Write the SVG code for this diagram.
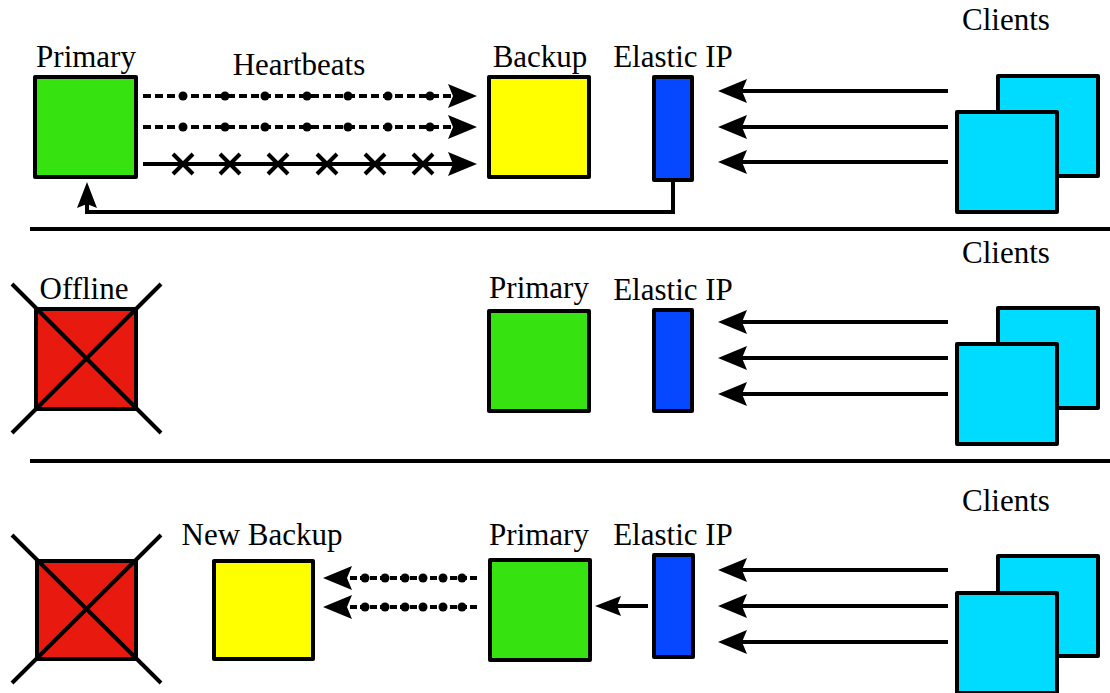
<svg xmlns="http://www.w3.org/2000/svg" width="1110" height="693" viewBox="0 0 1110 693">
  <defs>
    <style>
      .box { stroke: #000; stroke-width: 4; stroke-linejoin: round; }
      .green { fill: #36e20f; }
      .yellow { fill: #ffff00; }
      .blue { fill: #0548ff; }
      .red { fill: #e8190f; }
      .cyan { fill: #00dcff; }
      .lbl { font-family: "Liberation Serif", "Times New Roman", serif; font-size: 31px; fill: #000; text-anchor: middle; }
      .wire { fill: none; stroke: #000; stroke-width: 4; }
      .dash { stroke-dasharray: 8 4; }
      .dash-s { stroke-dasharray: 7 3; }
      .x { stroke: #000; stroke-width: 4; }
      .dot { fill: #000; }
      .rule { stroke: #000; stroke-width: 4; }
    </style>
    <!-- arrowhead whose tip lies 10px beyond the end of the path -->
    <marker id="arr" markerUnits="userSpaceOnUse" viewBox="-20 -12 32 24" markerWidth="32" markerHeight="24" refX="0" refY="0" orient="auto" overflow="visible">
      <path d="M10,0 L-19,-12 L-14,0 L-19,12 Z" fill="#000"/>
    </marker>
    <marker id="arr-s" markerUnits="userSpaceOnUse" viewBox="-20 -12 32 24" markerWidth="32" markerHeight="24" refX="0" refY="0" orient="auto" overflow="visible">
      <path d="M10,0 L-16,-10 L-12,0 L-16,10 Z" fill="#000"/>
    </marker>
  </defs>

  <rect width="1110" height="693" fill="#fff"/>

  <!-- panel separators -->
  <line class="rule" x1="30" y1="229" x2="1110" y2="229"/>
  <line class="rule" x1="30" y1="461" x2="1110" y2="461"/>

  <!-- ===== stage 1: normal operation ===== -->
  <g id="primary-1">
    <rect class="box green" x="35" y="77" width="101" height="100"/>
    <text class="lbl" x="86" y="67">Primary</text>
  </g>
  <g id="backup-1">
    <rect class="box yellow" x="489" y="77" width="100" height="100"/>
    <text class="lbl" x="540" y="67">Backup</text>
  </g>
  <g id="eip-1">
    <rect class="box blue" x="654" y="77" width="38" height="103"/>
    <text class="lbl" x="673" y="67">Elastic IP</text>
  </g>
  <g id="clients-1">
    <rect class="box cyan" x="998" y="76" width="100" height="100"/>
    <rect class="box cyan" x="957" y="112" width="100" height="100"/>
    <text class="lbl" x="1006" y="30">Clients</text>
  </g>
  <g id="heartbeats-label">
    <text class="lbl" x="299" y="75">Heartbeats</text>
  </g>

  <!-- ===== stage 2: primary offline ===== -->
  <g id="offline-2">
    <rect class="box red" x="36" y="309" width="100" height="100"/>
    <line class="x" x1="12" y1="284" x2="161" y2="433"/>
    <line class="x" x1="161" y1="284" x2="12" y2="433"/>
    <text class="lbl" x="84" y="299">Offline</text>
  </g>
  <g id="primary-2">
    <rect class="box green" x="489" y="311" width="100" height="100"/>
    <text class="lbl" x="539" y="298">Primary</text>
  </g>
  <g id="eip-2">
    <rect class="box blue" x="654" y="310" width="38" height="101"/>
    <text class="lbl" x="673" y="300">Elastic IP</text>
  </g>
  <g id="clients-2">
    <rect class="box cyan" x="998" y="308" width="100" height="100"/>
    <rect class="box cyan" x="957" y="344" width="100" height="100"/>
    <text class="lbl" x="1006" y="263">Clients</text>
  </g>

  <!-- ===== stage 3: new backup ===== -->
  <g id="offline-3">
    <rect class="box red" x="37" y="561" width="99" height="98"/>
    <line class="x" x1="12" y1="535" x2="161" y2="683"/>
    <line class="x" x1="161" y1="535" x2="12" y2="683"/>
  </g>
  <g id="new-backup-3">
    <rect class="box yellow" x="214" y="561" width="99" height="98"/>
    <text class="lbl" x="262" y="545">New Backup</text>
  </g>
  <g id="primary-3">
    <rect class="box green" x="490" y="560" width="100" height="100"/>
    <text class="lbl" x="539" y="545">Primary</text>
  </g>
  <g id="eip-3">
    <rect class="box blue" x="654" y="555" width="39" height="102"/>
    <text class="lbl" x="673" y="545">Elastic IP</text>
  </g>
  <g id="clients-3">
    <rect class="box cyan" x="998" y="556" width="100" height="100"/>
    <rect class="box cyan" x="957" y="593" width="100" height="100"/>
    <text class="lbl" x="1006" y="511">Clients</text>
  </g>

  <!-- ===== connectors ===== -->
  <g id="connectors">
    <!-- stage 1: heartbeats primary -> backup -->
    <line class="wire dash" x1="143" y1="96" x2="467" y2="96" marker-end="url(#arr)"/>
    <line class="wire dash" x1="143" y1="127" x2="467" y2="127" marker-end="url(#arr)"/>
    <line class="wire" x1="143" y1="164" x2="467" y2="164" marker-end="url(#arr)"/>
    <g class="dot">
      <circle cx="183" cy="96" r="4.5"/><circle cx="225" cy="96" r="4.5"/><circle cx="265" cy="96" r="4.5"/>
      <circle cx="307" cy="96" r="4.5"/><circle cx="348" cy="96" r="4.5"/><circle cx="388" cy="96" r="4.5"/>
      <circle cx="430" cy="96" r="4.5"/>
      <circle cx="183" cy="127" r="4.5"/><circle cx="225" cy="127" r="4.5"/><circle cx="265" cy="127" r="4.5"/>
      <circle cx="307" cy="127" r="4.5"/><circle cx="348" cy="127" r="4.5"/><circle cx="388" cy="127" r="4.5"/>
      <circle cx="430" cy="127" r="4.5"/>
    </g>
    <!-- failed heartbeats -->
    <path class="x" d="M173,154 l20,20 m0,-20 l-20,20
                       M220,154 l20,20 m0,-20 l-20,20
                       M268,154 l20,20 m0,-20 l-20,20
                       M317,154 l20,20 m0,-20 l-20,20
                       M365,154 l20,20 m0,-20 l-20,20
                       M413,154 l20,20 m0,-20 l-20,20"/>
    <!-- stage 1: elastic IP routed to primary -->
    <path class="wire" d="M673,181 V212 H87 V192" marker-end="url(#arr-s)"/>
    <!-- stage 1: client traffic -->
    <line class="wire" x1="948" y1="91" x2="728" y2="91" marker-end="url(#arr)"/>
    <line class="wire" x1="948" y1="127" x2="728" y2="127" marker-end="url(#arr)"/>
    <line class="wire" x1="948" y1="162" x2="728" y2="162" marker-end="url(#arr)"/>

    <!-- stage 2: client traffic -->
    <line class="wire" x1="948" y1="322" x2="728" y2="322" marker-end="url(#arr)"/>
    <line class="wire" x1="948" y1="358" x2="728" y2="358" marker-end="url(#arr)"/>
    <line class="wire" x1="948" y1="394" x2="728" y2="394" marker-end="url(#arr)"/>

    <!-- stage 3: client traffic -->
    <line class="wire" x1="948" y1="570" x2="728" y2="570" marker-end="url(#arr)"/>
    <line class="wire" x1="948" y1="606" x2="728" y2="606" marker-end="url(#arr)"/>
    <line class="wire" x1="948" y1="642" x2="728" y2="642" marker-end="url(#arr)"/>
    <!-- stage 3: elastic IP routed to new primary -->
    <line class="wire" x1="648" y1="606" x2="605" y2="606" marker-end="url(#arr-s)"/>
    <!-- stage 3: heartbeats primary -> new backup -->
    <line class="wire dash-s" x1="477" y1="578" x2="333" y2="578" marker-end="url(#arr)"/>
    <line class="wire dash-s" x1="477" y1="607" x2="333" y2="607" marker-end="url(#arr)"/>
    <g class="dot">
      <circle cx="365" cy="578" r="4.5"/><circle cx="385" cy="578" r="4.5"/><circle cx="405" cy="578" r="4.5"/>
      <circle cx="423" cy="578" r="4.5"/><circle cx="443" cy="578" r="4.5"/><circle cx="462" cy="578" r="4.5"/>
      <circle cx="365" cy="607" r="4.5"/><circle cx="385" cy="607" r="4.5"/><circle cx="405" cy="607" r="4.5"/>
      <circle cx="423" cy="607" r="4.5"/><circle cx="443" cy="607" r="4.5"/><circle cx="462" cy="607" r="4.5"/>
    </g>
  </g>
</svg>
